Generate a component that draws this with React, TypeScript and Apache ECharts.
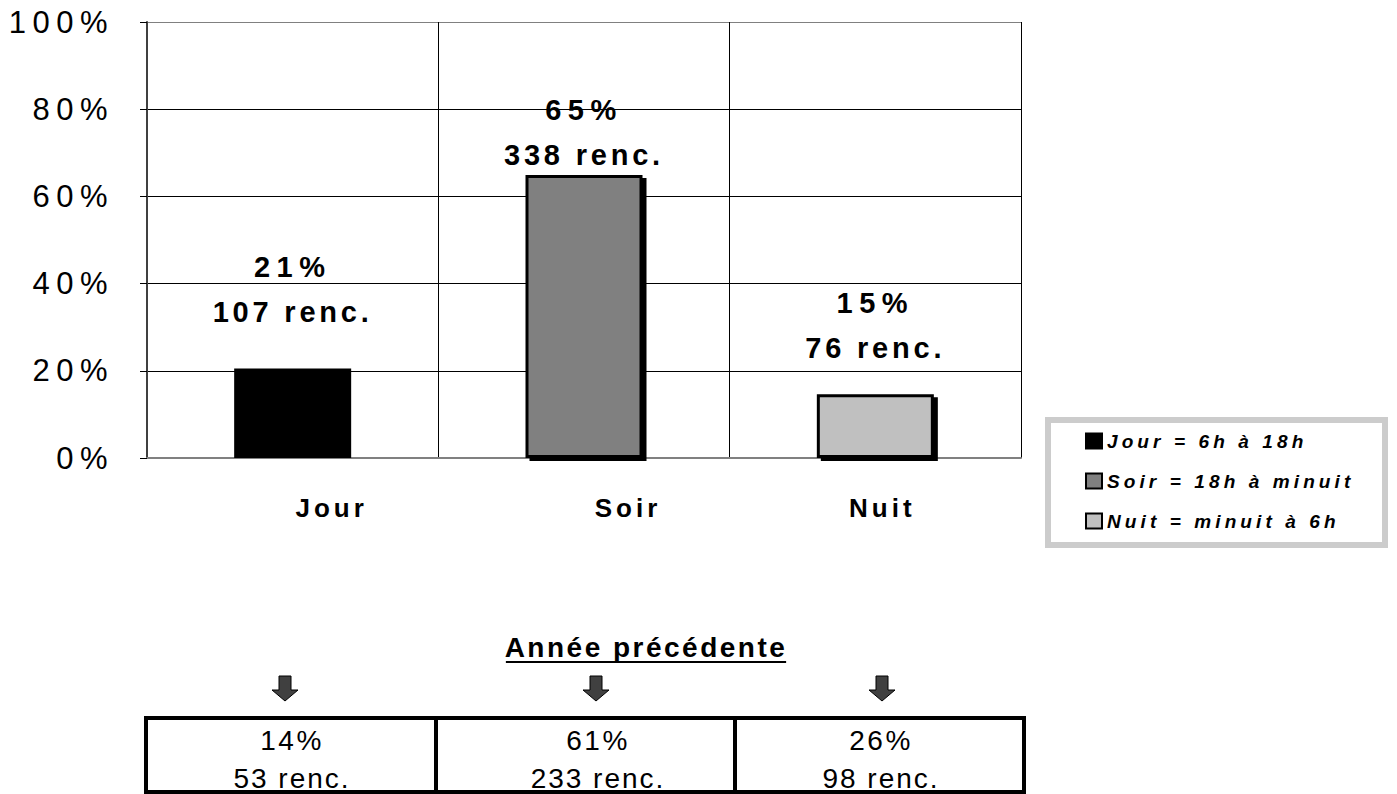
import React, { useEffect, useRef } from 'react';
import * as echarts from 'echarts';

const categories = ['Jour', 'Soir', 'Nuit'];
const legendNames = ['Jour = 6h à 18h', 'Soir = 18h à minuit', 'Nuit = minuit à 6h'];
const shares = [20.5, 64.9, 14.6];
const shareLabels = ['21%', '65%', '15%'];
const counts = [107, 338, 76];
const barColors = ['#000000', '#808080', '#c0c0c0'];
const labelDistances = [34, -2, 24];
const xLabelShift = [78, 88, 14];
const yTickValues = [0, 20, 40, 60, 80, 100];
const prevShareLabels = ['14%', '61%', '26%'];
const prevCounts = [53, 233, 98];
const prevTitle = 'Année précédente';

const FONT = '"Liberation Sans", Arial, Helvetica, sans-serif';

function measure(text: string, font: string): number {
  const c = document.createElement('canvas');
  const ctx = c.getContext('2d');
  if (!ctx) return 240;
  ctx.font = font;
  return ctx.measureText(text).width;
}

export default function App() {
  const ref = useRef<HTMLDivElement>(null);
  useEffect(() => {
    if (!ref.current) return;
    const chart = echarts.init(ref.current, undefined, { renderer: 'svg' });

    // letter spacing (the reference renders its texts with wide tracking)
    const spacing = new Map<string, number>();
    yTickValues.forEach((v) => spacing.set(`${v}%`, 6.5));
    shareLabels.forEach((s) => spacing.set(s, 6.5));
    counts.forEach((c) => spacing.set(`${c} renc.`, 3.8));
    categories.forEach((c) => spacing.set(c, 4));
    legendNames.forEach((n) => spacing.set(n, 4.1));
    spacing.set(prevTitle, 2.5);
    prevShareLabels.forEach((p) => spacing.set(p, 2.5));
    prevCounts.forEach((c) => spacing.set(`${c} renc.`, 2));

    const titleSpacing = 2.5;
    const titleW = measure(prevTitle, `bold 28px ${FONT}`) + titleSpacing * (prevTitle.length - 1);
    const titleX = 646;
    const arrowX = [285, 596, 882];
    const cellTextX = [292, 598, 881];

    const arrows = arrowX.map((cx) => ({
      type: 'polygon',
      shape: {
        points: [
          [cx - 6, 676], [cx + 6, 676], [cx + 6, 690], [cx + 13, 690],
          [cx, 701], [cx - 13, 690], [cx - 6, 690],
        ],
      },
      style: { fill: '#404040', stroke: '#000', lineWidth: 1 },
    }));

    const cellTexts: any[] = [];
    prevShareLabels.forEach((p, i) => {
      cellTexts.push({
        type: 'text', x: cellTextX[i], y: 740,
        style: { text: p, fontSize: 28, fontFamily: FONT, fill: '#000', align: 'center', verticalAlign: 'middle' },
      });
      cellTexts.push({
        type: 'text', x: cellTextX[i], y: 778,
        style: { text: `${prevCounts[i]} renc.`, fontSize: 28, fontFamily: FONT, fill: '#000', align: 'center', verticalAlign: 'middle' },
      });
    });

    const xRich: Record<string, any> = {};
    categories.forEach((c, i) => {
      xRich['c' + i] = {
        fontSize: 26, fontWeight: 'bold', fontFamily: FONT, color: '#000',
        padding: [0, 0, 0, xLabelShift[i]],
      };
    });

    chart.setOption({
      animation: false,
      grid: { left: 147, right: 376, top: 22, bottom: 336, containLabel: false },
      legend: {
        orient: 'vertical',
        left: 1080,
        top: 426,
        z: 10,
        icon: 'rect',
        itemWidth: 16,
        itemHeight: 15,
        itemGap: 20,
        data: legendNames,
        itemStyle: { borderColor: '#000', borderWidth: 2, shadowColor: 'transparent', shadowOffsetX: 0, shadowOffsetY: 0 },
        textStyle: {
          fontSize: 19, fontWeight: 'bold', fontStyle: 'italic', fontFamily: FONT,
          color: '#000', lineHeight: 20, padding: 0,
        },
        selectedMode: false,
      },
      xAxis: {
        type: 'category',
        data: categories,
        boundaryGap: true,
        axisLine: { show: true, lineStyle: { color: '#808080', width: 2 } },
        axisTick: { show: false },
        axisLabel: {
          margin: 37, fontSize: 26, fontWeight: 'bold', fontFamily: FONT, color: '#000',
          formatter: (v: string) => `{c${categories.indexOf(v)}|${v}}`,
          rich: xRich,
        },
        splitLine: { show: true, lineStyle: { color: '#000', width: 1 } },
      },
      yAxis: {
        type: 'value',
        min: 0,
        max: 100,
        interval: 20,
        axisLine: { show: true, lineStyle: { color: '#404040', width: 2 } },
        axisTick: { show: true, inside: false, length: 7, lineStyle: { color: '#000', width: 1 } },
        axisLabel: { formatter: '{value}%', margin: 33, fontSize: 31, fontFamily: FONT, color: '#000' },
        splitLine: {
          show: true,
          lineStyle: { color: ['#808080', '#000', '#000', '#000', '#000', '#808080'], width: 1 },
        },
      },
      series: categories.map((c, i) => ({
        name: legendNames[i],
        type: 'bar',
        stack: 'all',
        barWidth: 117,
        data: categories.map((_, j) => (j === i ? shares[i] : null)),
        itemStyle: {
          color: barColors[i],
          borderColor: '#000',
          borderWidth: 3,
          shadowColor: i === 0 ? 'transparent' : '#000',
          shadowOffsetX: i === 0 ? 0 : 4,
          shadowOffsetY: i === 0 ? 0 : 3,
          shadowBlur: 0,
        },
        label: {
          show: true,
          position: 'top',
          distance: labelDistances[i],
          color: '#000',
          fontSize: 29,
          fontWeight: 'bold',
          fontFamily: FONT,
          lineHeight: 45,
          formatter: `${shareLabels[i]}\n${counts[i]} renc.`,
        },
      })),
      graphic: [
        {
          type: 'rect', z: 0,
          shape: { x: 1048, y: 420, width: 337, height: 125 },
          style: { fill: '#fff', stroke: '#cccccc', lineWidth: 6 },
        },
        {
          type: 'text', x: titleX, y: 647,
          style: { text: prevTitle, fontSize: 28, fontWeight: 'bold', fontFamily: FONT, fill: '#000', align: 'center', verticalAlign: 'middle' },
        },
        {
          type: 'line',
          shape: { x1: titleX - titleW / 2, y1: 662, x2: titleX + titleW / 2, y2: 662 },
          style: { stroke: '#000', lineWidth: 2 },
        },
        ...arrows,
        {
          type: 'rect',
          shape: { x: 146, y: 718, width: 878, height: 74 },
          style: { fill: 'none', stroke: '#000', lineWidth: 4 },
        },
        { type: 'line', shape: { x1: 436, y1: 718, x2: 436, y2: 792 }, style: { stroke: '#000', lineWidth: 4 } },
        { type: 'line', shape: { x1: 735, y1: 718, x2: 735, y2: 792 }, style: { stroke: '#000', lineWidth: 4 } },
        ...cellTexts,
      ],
    });

    const apply = () => {
      const root = ref.current;
      if (!root) return;
      root.querySelectorAll('text').forEach((t) => {
        const s = spacing.get((t.textContent || '').trim());
        if (s != null) t.setAttribute('letter-spacing', String(s));
      });
    };
    apply();
    chart.on('finished', apply);
    const raf = requestAnimationFrame(apply);

    return () => {
      cancelAnimationFrame(raf);
      chart.dispose();
    };
  }, []);

  return (
    <div
      ref={ref}
      style={{ position: 'absolute', left: 0, top: 0, width: 1397, height: 794, background: '#fff' }}
    />
  );
}
